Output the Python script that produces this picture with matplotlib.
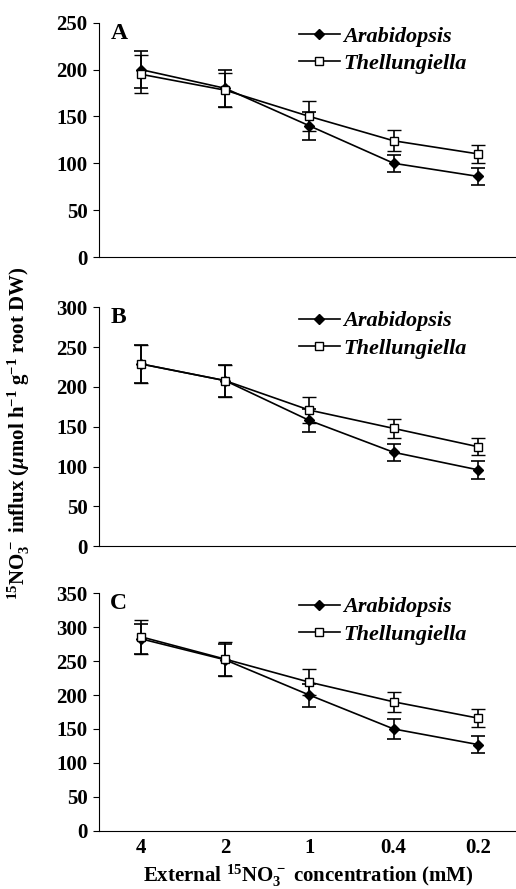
import matplotlib
matplotlib.use("Agg")
import matplotlib.pyplot as plt
from matplotlib.lines import Line2D

plt.rcParams['font.family'] = ['Liberation Serif', 'DejaVu Serif']
plt.rcParams['font.weight'] = 'bold'
plt.rcParams['mathtext.fontset'] = 'custom'
plt.rcParams['mathtext.rm'] = 'Liberation Serif:bold'
plt.rcParams['mathtext.it'] = 'Liberation Serif:italic:bold'
plt.rcParams['mathtext.bf'] = 'Liberation Serif:bold'

concentrations = ['4', '2', '1', '0.4', '0.2']

# panel A
arab_a = [200, 180, 140, 100, 86]
arab_a_err = [20, 20, 15, 9, 9]
thel_a = [195, 178, 150, 124, 110]
thel_a_err = [20, 18, 16, 11, 10]

# panel B
arab_b = [229, 208, 158, 118, 96]
arab_b_err = [24, 20, 14, 11, 11]
thel_b = [229, 208, 171, 148, 125]
thel_b_err = [24, 20, 16, 12, 11]

# panel C
arab_c = [283, 252, 200, 150, 127]
arab_c_err = [22, 24, 17, 15, 12]
thel_c = [286, 253, 219, 190, 166]
thel_c_err = [25, 25, 19, 15, 13]

panels = [
    ('A', arab_a, arab_a_err, thel_a, thel_a_err, 250, [0.7109, 0.2636]),
    ('B', arab_b, arab_b_err, thel_b, thel_b_err, 300, [0.3855, 0.2688]),
    ('C', arab_c, arab_c_err, thel_c, thel_c_err, 350, [0.0656, 0.2670]),
]

fig = plt.figure(figsize=(5.16, 8.89), dpi=100)
x = list(range(len(concentrations)))

arab_style = dict(color='black', marker='D', markersize=5.5, mfc='black', mec='black', lw=1.2)
thel_style = dict(color='black', marker='s', markersize=6.2, mfc='white', mec='black',
                  mew=1.0, lw=1.2)

for i, (letter, ar, ar_e, th, th_e, ymax, (bot, h)) in enumerate(panels):
    ax = fig.add_axes([0.191, bot, 0.817, h])
    ax.errorbar(x, ar, yerr=ar_e, capsize=5, capthick=1.2, elinewidth=1.2, **arab_style)
    ax.errorbar(x, th, yerr=th_e, capsize=5, capthick=1.2, elinewidth=1.2, **thel_style)
    ax.set_xlim(-0.5, 4.5)
    ax.set_ylim(0, ymax)
    ax.set_yticks(range(0, ymax + 1, 50))
    ax.spines['top'].set_visible(False)
    ax.spines['right'].set_visible(False)
    ax.tick_params(axis='y', direction='out', length=4, labelsize=15, pad=4)
    ax.tick_params(axis='x', length=0, labelsize=15, pad=5)
    if i == 2:
        ax.set_xticks(x)
        ax.set_xticklabels(concentrations, fontweight='bold')
    else:
        ax.set_xticks([])
    ax.text(0.028, 1.0, letter, transform=ax.transAxes, fontsize=17,
            fontweight='bold', va='top', ha='left')
    handles = [Line2D([], [], **arab_style), Line2D([], [], **thel_style)]
    ax.legend(handles, ['Arabidopsis', 'Thellungiella'], loc='upper left',
              bbox_to_anchor=(0.475, 0.985), frameon=False, borderpad=0,
              borderaxespad=0, handlelength=1.85, handletextpad=0.15,
              labelspacing=0.3,
              prop={'size': 16, 'weight': 'bold', 'style': 'italic'})

fig.text(0.037, 0.513,
         r'$^{15}$NO$_3^{\,-}$ influx ($\mu$mol h$^{-1}$ g$^{-1}$ root DW)',
         rotation=90, ha='center', va='center', fontsize=15, fontweight='bold')
fig.text(0.597, 0.015,
         r'External $^{15}$NO$_3^{\,-}$ concentration (mM)',
         ha='center', va='center', fontsize=15, fontweight='bold')

fig.savefig('out.png', dpi=100)
